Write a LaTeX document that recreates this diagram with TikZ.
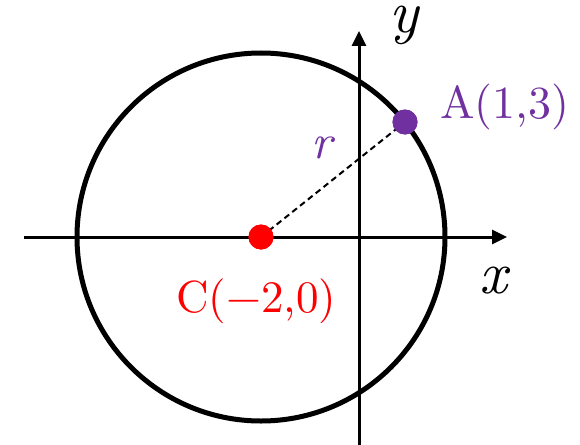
\documentclass[tikz,border=0pt]{standalone}
\usetikzlibrary{arrows.meta}
\definecolor{apurple}{HTML}{7030A0}
\definecolor{cred}{HTML}{FF0000}
\tikzset{
  axis/.style={line width=3pt,-{Triangle[length=15pt,width=14pt]}},
  circ/.style={line width=5pt},
  radius line/.style={line width=2pt,dash pattern=on 6pt off 4pt},
  dotc/.style={circle,fill=#1,inner sep=0pt,minimum size=25pt},
  lab/.style={inner sep=0pt},
}
\newcommand{\bigtxt}[2]{\scalebox{#1}{#2}}
\begin{document}
\begin{tikzpicture}[x=1pt,y=-1pt]
\useasboundingbox (0,0) rectangle (580,444);
\coordinate (xs) at (24,237);
\coordinate (xe) at (507,237);
\coordinate (ys) at (359,446);
\coordinate (ye) at (359,31);
\draw[circ] (261,237) circle (184);
\draw[axis] (xs) -- (xe);
\draw[axis] (ys) -- (ye);
\node[dotc=cred] (C) at (261,237) {};
\node[dotc=apurple] (A) at (405,122) {};
\draw[radius line] (C.center) -- (A.center);
\node[dotc=cred] at (261,237) {};
\node[dotc=apurple] at (405,122) {};
\node[lab,text=apurple,anchor=base west] (Alab) at (440,118) {\bigtxt{4.6}{A(1,3)}};
\node[lab,text=cred,anchor=base west] (Clab) at (176,312) {\bigtxt{4.5}{C(\textminus2,0)}};
\node[lab,anchor=base west] (xl) at (479,293) {\bigtxt{6}{\itshape x}};
\node[lab,anchor=base west] (yl) at (389,33) {\bigtxt{6}{\itshape y}};
\node[lab,text=apurple,anchor=base west] (rl) at (311,158) {\bigtxt{4.9}{\itshape r}};
\end{tikzpicture}
\end{document}
